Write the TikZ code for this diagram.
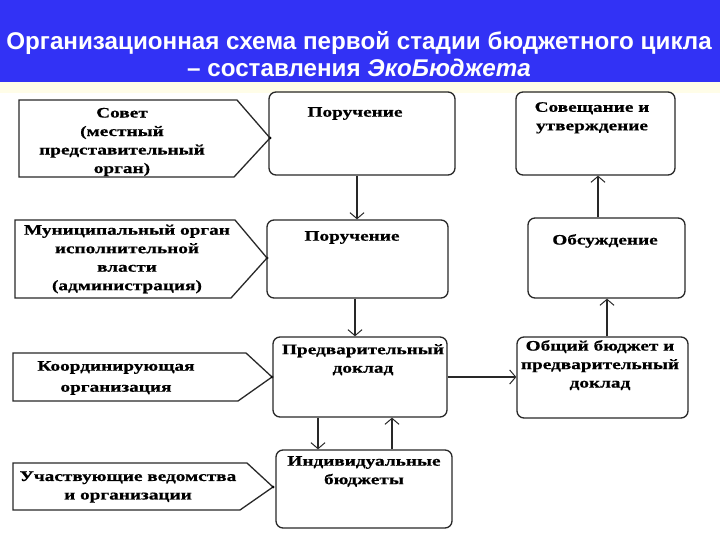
\documentclass[tikz,border=0pt]{standalone}
\usepackage{fontspec}
\usetikzlibrary{arrows.meta,calc}
\setmainfont{Liberation Serif}
\newfontfamily\dgfont[FakeStretch=1.33,FakeBold=0.6]{Liberation Serif Bold}
\newfontfamily\ttlfont{Liberation Sans Bold}
\newfontfamily\ttlitfont{Liberation Sans Bold Italic}
\definecolor{band}{RGB}{50,50,245}
\definecolor{ink}{RGB}{40,40,40}
\definecolor{cream}{RGB}{255,253,232}
\tikzset{
  cbox/.style={draw=ink, line width=1.3pt, rounded corners=7pt},
  pent/.style={draw=ink, line width=1.3pt},
  txt/.style={font=\dgfont\fontsize{14.5}{18.5}\selectfont, align=center, text=black, inner sep=0pt},
  arr/.style={draw=ink, line width=1.1pt, -{Straight Barb[length=6pt,width=14pt,line width=1pt]}},
  tipdot/.style={circle, fill=black, inner sep=0pt, minimum size=3pt},
  title/.style={text=white, inner sep=0pt, anchor=base}
}
\begin{document}
\begin{tikzpicture}[x=1pt,y=-1pt]
\useasboundingbox (0,0) rectangle (720,540);
\fill[white] (0,0) rectangle (720,540);
\fill[band] (0,0) rectangle (720,82);
\fill[cream] (0,82) rectangle (720,93);
\node[title, font=\ttlfont\fontsize{24.2}{28}\selectfont] (t1) at (359,50) {Организационная схема первой стадии бюджетного цикла};
\node[title, font=\ttlfont\fontsize{24.2}{28}\selectfont] (t2) at (359,77) {– составления \ttlitfont ЭкоБюджета};

% left pentagons
\draw[pent] (19,100) -- (237,100) -- (270,138) -- (234,177) -- (19,177) -- cycle;
\node[txt] (s1) at (122,142) {Совет\\(местный\\представительный\\орган)};
\draw[pent] (15,220) -- (235,220) -- (267,258) -- (231,298) -- (15,298) -- cycle;
\node[txt] (s2) at (127,259) {Муниципальный орган\\исполнительной\\власти\\(администрация)};
\draw[pent] (13,353) -- (246,353) -- (272,377) -- (238,401) -- (13,401) -- cycle;
\node[txt, font=\dgfont\fontsize{14.5}{21}\selectfont] (s3) at (116,378) {Координирующая\\организация};
\draw[pent] (13,463) -- (247,463) -- (273,487) -- (240,510) -- (13,510) -- cycle;
\node[txt] (s4) at (128,487) {Участвующие ведомства\\и организации};

\node[tipdot] (d1) at (270,138) {};
\node[tipdot] (d2) at (267,258) {};
\node[tipdot] (d3) at (272,377) {};
\node[tipdot] (d4) at (273,487) {};

% centre boxes
\node[cbox, minimum width=186pt, minimum height=83pt] (pa) at (362,133.5) {};
\node[txt, anchor=north] (pat) at (355,107) {Поручение};
\node[cbox, minimum width=181pt, minimum height=78pt] (pb) at (357.5,259) {};
\node[txt, anchor=north] (pbt) at (352,231) {Поручение};
\node[cbox, minimum width=174pt, minimum height=80pt] (pc) at (360,377) {};
\node[txt, anchor=north] (pct) at (363,344) {Предварительный\\доклад};
\node[cbox, minimum width=176pt, minimum height=78pt] (pd) at (364,489) {};
\node[txt, anchor=north] (pdt) at (364,456) {Индивидуальные\\бюджеты};

% right boxes
\node[cbox, minimum width=159pt, minimum height=83pt] (pf) at (595.5,133.5) {};
\node[txt, anchor=north] (pft) at (592,102) {Совещание и\\утверждение};
\node[cbox, minimum width=157pt, minimum height=80pt] (pg) at (606.5,258) {};
\node[txt, anchor=north] (pgt) at (605,234) {Обсуждение};
\node[cbox, minimum width=171pt, minimum height=81pt] (ph) at (602.5,377.5) {};
\node[txt, anchor=north] (pht) at (600,340) {Общий бюджет и\\предварительный\\доклад};

% connectors
\draw[arr] (pa.south -| 357,0) -- (pb.north -| 357,0);
\draw[arr] (pb.south -| 355,0) -- (pc.north -| 355,0);
\draw[arr] (pc.south -| 318,0) -- (pd.north -| 318,0);
\draw[arr] (pd.north -| 392,0) -- (pc.south -| 392,0);
\draw[arr] (pc.east |- 0,377) -- (ph.west |- 0,377);
\draw[arr] (ph.north -| 607,0) -- (pg.south -| 607,0);
\draw[arr] (pg.north -| 598,0) -- (pf.south -| 598,0);
\end{tikzpicture}
\end{document}
